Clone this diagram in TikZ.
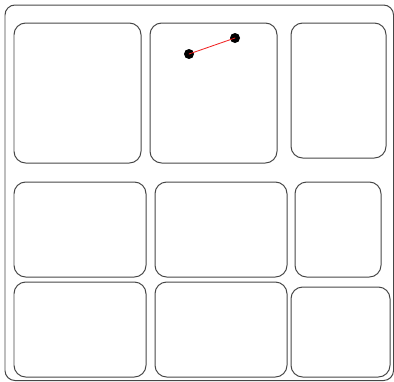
\documentclass[tikz,border=0pt]{standalone}
\usepackage{xcolor}
\usepackage{tikz}
\usetikzlibrary{positioning,calc}
\definecolor{frameink}{RGB}{70,70,70}
\definecolor{linkred}{RGB}{240,30,30}

\begin{document}
\begin{tikzpicture}[x=0.03cm,y=-0.03cm,line cap=round,
  panel/.style={draw=frameink,line width=0.85pt,rounded corners=10pt},
  outer/.style={draw=frameink,line width=0.85pt,rounded corners=8.5pt},
  pin/.style={circle,fill=black,inner sep=0pt,minimum size=0.3cm},
  link/.style={linkred,line width=0.7pt}]
  \useasboundingbox (0,0) rectangle (394,381);
  % outer frame
  \draw[outer] (5,5) rectangle (393.5,380.5);
  % top row
  \draw[panel] (14,23) rectangle (141,163);
  \draw[panel] (150,23) rectangle (277,163);
  \draw[panel] (291,23) rectangle (386,158);
  % middle row
  \draw[panel] (14,182) rectangle (146,277);
  \draw[panel] (155,182) rectangle (287,277);
  \draw[panel] (295,182) rectangle (381,277);
  % bottom row
  \draw[panel] (14,282) rectangle (146,377);
  \draw[panel] (155,282) rectangle (287,377);
  \draw[panel] (291,287) rectangle (390,377);
  % the two pins and their link
  \node[pin] (pinA) at (189,54) {};
  \node[pin] (pinB) at (235,38) {};
  \draw[link] (pinA.center) -- (pinB.center);
\end{tikzpicture}
\end{document}
